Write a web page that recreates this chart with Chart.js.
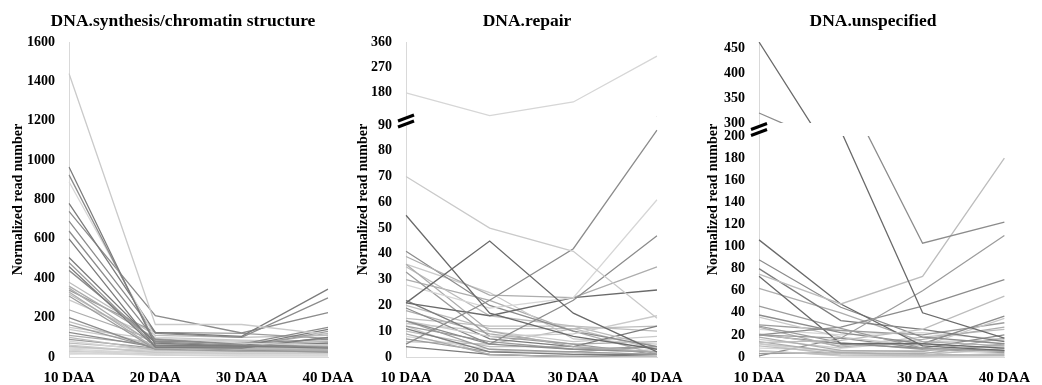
<!DOCTYPE html>
<html>
<head>
<meta charset="utf-8">
<script src="https://cdn.jsdelivr.net/npm/chart.js@4.4.0/dist/chart.umd.min.js"></script>
<style>
  html, body { margin: 0; padding: 0; background: #fff; overflow: hidden; width: 1042px; height: 385px; }
  canvas { position: absolute; top: 0; }
  .ttl { position: absolute; top: 10px; width: 400px; margin-left: -200px; text-align: center;
         font: bold 17.5px 'Liberation Serif', 'Times New Roman', serif; color: #000; line-height: 20px; }
</style>
</head>
<body>
<canvas id="c1" width="366" height="388" style="left:0px"></canvas>
<canvas id="c2" width="354" height="388" style="left:350px"></canvas>
<canvas id="c3" width="338" height="388" style="left:704px"></canvas>
<div class="ttl" id="t1" style="left:183px"></div>
<div class="ttl" id="t2" style="left:527px"></div>
<div class="ttl" id="t3" style="left:873px"></div>
<script>
// ---- data ----
const categories = ['10 DAA', '20 DAA', '30 DAA', '40 DAA'];

const synthesisTitle = 'DNA.synthesis/chromatin structure';
const synthesisTicks = [0, 200, 400, 600, 800, 1000, 1200, 1400, 1600];
const synthesisSeries = [
  [1440, 165, 165, 115], [965, 60, 55, 45], [925, 75, 60, 50], [890, 100, 70, 60],
  [780, 125, 105, 345], [740, 210, 122, 225], [690, 120, 100, 300], [640, 90, 65, 150],
  [600, 50, 50, 70], [505, 70, 55, 140], [480, 55, 50, 130], [460, 50, 45, 100],
  [440, 80, 70, 90], [380, 110, 100, 110], [360, 95, 60, 50], [350, 60, 45, 60],
  [340, 125, 120, 95], [330, 45, 40, 40], [320, 65, 60, 70], [310, 40, 30, 30],
  [290, 100, 85, 75], [240, 85, 70, 55], [200, 40, 50, 60], [180, 55, 40, 35],
  [165, 45, 60, 80], [150, 90, 80, 65], [140, 70, 40, 45], [125, 50, 35, 25],
  [110, 60, 55, 120], [100, 35, 30, 40], [90, 45, 50, 100], [80, 30, 25, 30],
  [70, 40, 45, 50], [60, 25, 20, 20], [55, 25, 30, 35], [50, 30, 35, 30],
  [45, 35, 25, 15], [40, 20, 15, 15], [35, 10, 5, 5], [30, 15, 20, 25],
  [25, 30, 40, 45], [20, 10, 10, 10], [15, 20, 15, 20]
];

const repairTitle = 'DNA.repair';
const repairUpperTicks = [180, 270, 360];
const repairLowerTicks = [0, 10, 20, 30, 40, 50, 60, 70, 80, 90];
const repairSeries = [
  [177, 95, 144, 309], [70, 50, 41, 15], [55, 17, 8, 3], [21, 45, 17, 2],
  [5, 22, 42, 88], [14, 5, 22, 47], [28, 19, 23, 61], [39, 24, 23, 35],
  [21, 16, 23, 26], [14, 8, 9, 16], [41, 20, 10, 4], [36, 10, 4, 2],
  [35, 16, 12, 4], [33, 8, 5, 1], [22, 7, 4, 12], [20, 11, 11, 12],
  [19, 5, 3, 2], [15, 12, 12, 10], [14, 3, 2, 1], [13, 10, 6, 8],
  [12, 6, 3, 4], [11, 2, 1, 1], [10, 4, 4, 2], [9, 1, 0, 0],
  [8, 3, 1, 3], [7, 2, 2, 4], [4, 1, 0, 1], [36, 25, 7, 5],
  [18, 9, 5, 6], [6, 5, 11, 3], [30, 22, 10, 1], [12, 0.5, 0.5, 0.5]
];

const unspecTitle = 'DNA.unspecified';
const unspecUpperTicks = [300, 350, 400, 450];
const unspecLowerTicks = [0, 20, 40, 60, 80, 100, 120, 140, 160, 180, 200];
const unspecSeries = [
  [462, 205, 40, 17], [320, 249, 103, 122], [75, 48, 73, 180], [20, 17, 60, 110],
  [20, 27, 46, 70], [13, 15, 25, 55], [106, 48, 10, 6], [88, 45, 18, 12],
  [80, 33, 25, 14], [73, 12, 12, 8], [62, 40, 14, 10], [46, 26, 8, 5],
  [38, 22, 12, 37], [36, 18, 10, 35], [29, 24, 20, 31], [27, 9, 16, 27],
  [21, 10, 18, 25], [20, 12, 8, 20], [18, 6, 5, 17], [16, 8, 14, 15],
  [14, 4, 3, 12], [12, 5, 6, 10], [10, 3, 2, 8], [8, 6, 4, 5],
  [5, 2, 1, 3], [3, 4, 2, 2], [1, 17, 8, 6], [28, 13, 7, 4],
  [25, 20, 22, 16], [12, 1, 1, 1], [6, 1, 0.5, 1]
];

// ---- styles ----
const greys = ['#6a6a6a', '#7c7c7c', '#8c8c8c', '#9c9c9c', '#adadad', '#bdbdbd', '#cacaca', '#d6d6d6'];
const synthesisShade = [6,1,2,7,1,2,2,2,1,1,3,1,2,5,4,4,3,4,5,3,6,4,2,5,3,6,6,2,4,5,3,7,5,6,5,7,7,7,7,6,7,7,7];
const repairShade = [7,6,0,0,2,2,7,4,0,6,2,4,5,3,1,5,2,5,3,6,3,1,5,4,7,3,1,6,4,5,4,6];
const unspecShade = [0,2,5,3,2,5,0,2,1,0,4,3,2,6,3,4,5,2,4,6,4,6,5,7,5,3,2,3,7,7,6];

const FONT = "'Liberation Serif', 'Times New Roman', serif";
const AXIS = '#d9d9d9';

document.getElementById('t1').textContent = synthesisTitle;
document.getElementById('t2').textContent = repairTitle;
document.getElementById('t3').textContent = unspecTitle;

function boldFont(size) { return { family: FONT, size: size, weight: 'bold' }; }

function xScale() {
  return {
    type: 'category',
    grid: { display: false, drawTicks: false },
    border: { color: AXIS, width: 1 },
    ticks: { color: '#000', font: boldFont(15), padding: 12, maxRotation: 0, autoSkip: false },
    afterFit: s => { s.height = 31; }
  };
}

function yTitle(pad) {
  return { display: true, text: 'Normalized read number', color: '#000', font: boldFont(14), padding: { top: pad, bottom: 0 } };
}

function yTicks() {
  return { color: '#000', font: boldFont(14), padding: 14, autoSkip: false, callback: v => String(v) };
}

function fixedTicks(list) {
  return s => { s.ticks = list.map(v => ({ value: v })); };
}

function baseOptions(padRight, scales) {
  return {
    responsive: false,
    animation: false,
    layout: { padding: { left: 0, right: padRight, top: 42, bottom: 0 } },
    plugins: {
      legend: { display: false },
      tooltip: { enabled: false },
      title: { display: false }
    },
    elements: { point: { radius: 0 }, line: { borderWidth: 1.3, tension: 0 } },
    scales: scales
  };
}

// clip each section's lines to its own part of the broken axis
const sectionClip = {
  id: 'sectionClip',
  beforeDatasetDraw(chart, args, opts) {
    const ds = chart.data.datasets[args.index];
    const area = chart.chartArea;
    const sc = chart.scales[ds.yAxisID];
    let top, bottom;
    if (ds.yAxisID === 'yU') { top = area.top - 2; bottom = sc.getPixelForValue(opts.cut); }
    else { top = sc.top; bottom = area.bottom + 2; }
    const ctx = chart.ctx;
    ctx.save();
    ctx.beginPath();
    ctx.rect(area.left - 2, top, area.right - area.left + 4, bottom - top);
    ctx.clip();
  },
  afterDatasetDraw(chart) { chart.ctx.restore(); },
  afterDraw(chart, args, opts) {
    const yU = chart.scales.yU, yL = chart.scales.yL;
    const cx = chart.chartArea.left;
    const cy = (yU.getPixelForValue(opts.cut) + yL.top) / 2;
    const ctx = chart.ctx;
    ctx.save();
    ctx.fillStyle = '#fff';
    ctx.fillRect(cx - 1, cy - 5, 3, 10);
    ctx.strokeStyle = '#000';
    ctx.lineWidth = 3;
    [-3, 3].forEach(off => {
      ctx.beginPath();
      ctx.moveTo(cx - 8, cy + off + 3);
      ctx.lineTo(cx + 8, cy + off - 3);
      ctx.stroke();
    });
    ctx.restore();
  }
};

function lineSets(series, shade, axisId) {
  return series.map((vals, i) => ({
    data: vals,
    yAxisID: axisId,
    borderColor: greys[shade[i]],
    fill: false
  }));
}

// ---- panel 1 ----
new Chart(document.getElementById('c1'), {
  type: 'line',
  data: { labels: categories, datasets: lineSets(synthesisSeries, synthesisShade, 'y') },
  options: baseOptions(38, {
    x: xScale(),
    y: {
      min: 0, max: 1600,
      grid: { display: false, drawTicks: false },
      border: { color: AXIS },
      ticks: yTicks(),
      afterBuildTicks: fixedTicks(synthesisTicks),
      title: yTitle(9.6),
      afterFit: s => { s.width = 69; }
    }
  })
});

// ---- broken-axis panels ----
function brokenChart(id, series, shade, cfg) {
  const sets = lineSets(series, shade, 'yU').concat(lineSets(series, shade, 'yL'));
  const opts = baseOptions(cfg.padRight, {
    x: xScale(),
    yt: {
      position: 'left', weight: 10,
      grid: { display: false, drawTicks: false },
      border: { display: false },
      ticks: { display: false },
      title: yTitle(cfg.titlePad),
      afterFit: s => { s.width = cfg.titleWidth; }
    },
    yL: {
      position: 'left', stack: 'v', stackWeight: cfg.lowerWeight,
      min: 0, max: cfg.lowerMax, offset: false,
      grid: { display: false, drawTicks: false },
      border: { color: AXIS },
      ticks: yTicks(),
      afterBuildTicks: fixedTicks(cfg.lowerTicks),
      afterFit: s => { s.width = cfg.axisWidth; }
    },
    yU: {
      position: 'left', stack: 'v', stackWeight: cfg.upperWeight,
      min: cfg.upperMin, max: cfg.upperMax, offset: false,
      grid: { display: false, drawTicks: false },
      border: { color: AXIS },
      ticks: yTicks(),
      afterBuildTicks: fixedTicks(cfg.upperTicks),
      afterFit: s => { s.width = cfg.axisWidth; }
    }
  });
  opts.plugins.sectionClip = { cut: cfg.cut };
  new Chart(document.getElementById(id), {
    type: 'line',
    data: { labels: categories, datasets: sets },
    options: opts,
    plugins: [sectionClip]
  });
}

brokenChart('c2', repairSeries, repairShade, {
  padRight: 47, titlePad: 4.6, titleWidth: 18, axisWidth: 38,
  upperMin: 61, upperMax: 360, upperWeight: 83, upperTicks: repairUpperTicks, cut: 90,
  lowerMax: 90, lowerWeight: 232, lowerTicks: repairLowerTicks
});

brokenChart('c3', unspecSeries, unspecShade, {
  padRight: 25, titlePad: 0.6, titleWidth: 16, axisWidth: 39,
  upperMin: 274, upperMax: 462, upperWeight: 94, upperTicks: unspecUpperTicks, cut: 300,
  lowerMax: 200, lowerWeight: 221, lowerTicks: unspecLowerTicks
});
</script>
</body>
</html>
